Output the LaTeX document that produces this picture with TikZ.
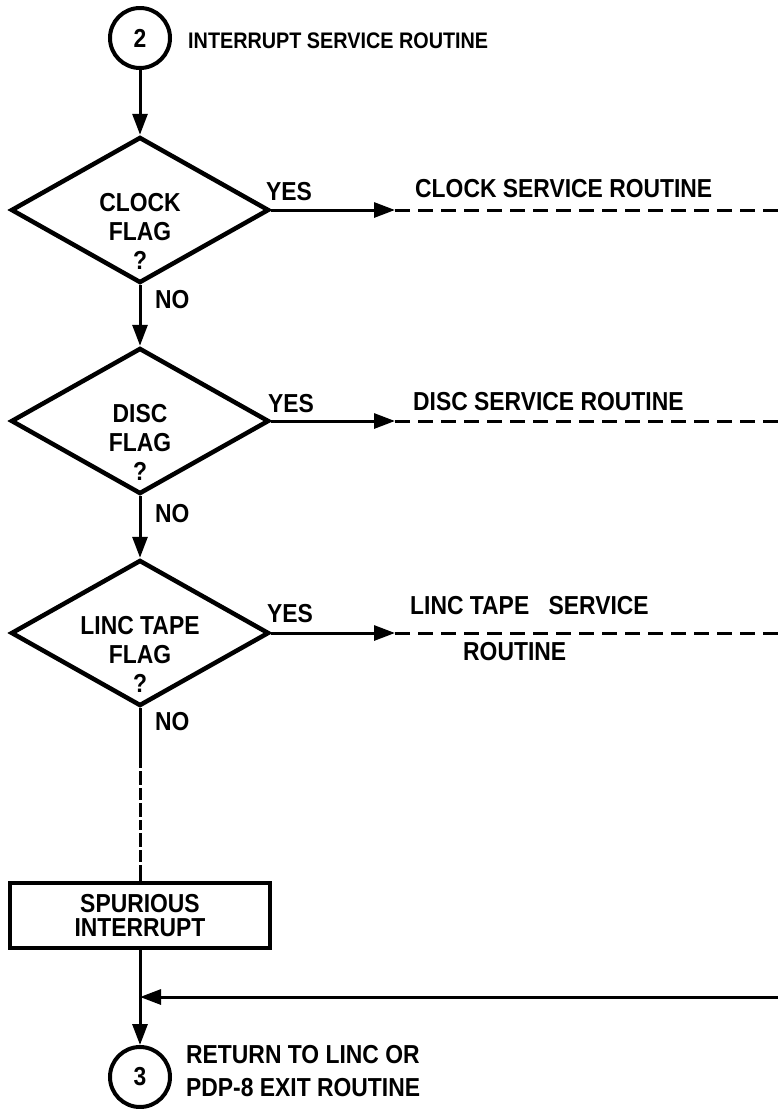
\documentclass[tikz,border=0pt]{standalone}
\usepackage{fontspec}
\setmainfont{Liberation Sans}[FakeStretch=0.88]
\usetikzlibrary{shapes.geometric,arrows.meta,calc}
\begin{document}
\begin{tikzpicture}[x=1pt,y=-1pt,
  lbl/.style={font=\bfseries\fontsize{26}{29}\selectfont,inner sep=0pt,anchor=base west},
  ttl/.style={font=\bfseries\fontsize{22.5}{27}\selectfont,inner sep=0pt,anchor=base west},
  dtext/.style={font=\bfseries\fontsize{26}{29}\selectfont,inner sep=0pt,align=center},
  decision/.style={draw,shape=diamond,line width=4.5pt,minimum width=258pt,minimum height=146pt,aspect=1.77,inner sep=0pt},
  conn/.style={draw,shape=circle,line width=4pt,minimum size=60pt,inner sep=0pt,font=\bfseries\fontsize{26}{29}\selectfont},
  procbox/.style={draw,rectangle,line width=4pt,minimum width=260pt,minimum height=65pt,inner sep=0pt,align=center,font=\bfseries\fontsize{26}{24}\selectfont},
  flow/.style={line width=3pt,-{Triangle[length=21pt,width=15pt]}},
  dashline/.style={line width=3pt,dash pattern=on 15pt off 8pt}
]
\useasboundingbox (0,0) rectangle (778,1109);

% start connector
\node[conn] (c2) at (140,38) {2};
\node[ttl] (title) at (188,48) {INTERRUPT SERVICE ROUTINE};

% decisions
\node[decision] (d1) at (140,210) {};
\node[dtext] (d1t) at ([yshift=-21pt]d1.center) {CLOCK\\FLAG\\?};
\node[decision] (d2) at (140,421) {};
\node[dtext] (d2t) at ([yshift=-21pt]d2.center) {DISC\\FLAG\\?};
\node[decision] (d3) at (140,633) {};
\node[dtext] (d3t) at ([yshift=-21pt]d3.center) {LINC TAPE\\FLAG\\?};

% process box
\node[procbox] (sp) at (140,915.5) {SPURIOUS\\INTERRUPT};

% end connector
\node[conn] (c3) at (140,1077) {3};
\node[lbl] (rt1) at (186,1063) {RETURN TO LINC OR};
\node[lbl] (rt2) at (186,1096) {PDP-8 EXIT ROUTINE};

% yes branches
\coordinate (a1) at (395,210);
\coordinate (e1) at (778,210);
\coordinate (a2) at (395,421);
\coordinate (e2) at (778,421);
\coordinate (a3) at (395,633);
\coordinate (e3) at (778,633);

\draw[flow] (d1.east) -- (a1);
\draw[dashline] (a1) -- (e1);
\draw[flow] (d2.east) -- (a2);
\draw[dashline] (a2) -- (e2);
\draw[flow] (d3.east) -- (a3);
\draw[dashline] (a3) -- (e3);

\node[lbl] (y1) at (266,200) {YES};
\node[lbl] (y2) at (268,412) {YES};
\node[lbl] (y3) at (267,622) {YES};

\node[lbl] (s1) at (415,197) {CLOCK SERVICE ROUTINE};
\node[lbl] (s2) at (413,410) {DISC SERVICE ROUTINE};
\node[lbl] (s3) at (410,614) {LINC TAPE\hspace{0.5em} SERVICE};
\node[lbl] (s3b) at (463,660) {ROUTINE};

% no branches
\node[lbl] (n1) at (155,308) {NO};
\node[lbl] (n2) at (155,522) {NO};
\node[lbl] (n3) at (155,730) {NO};

\draw[flow] (c2.south) -- (d1.north);
\draw[flow] (d1.south) -- (d2.north);
\draw[flow] (d2.south) -- (d3.north);
\draw[line width=3pt,dash pattern=on 60pt off 3pt on 14pt off 3pt on 12pt off 3pt on 14pt off 3pt on 10pt off 3pt on 14pt off 3pt on 12pt off 3pt on 40pt] (d3.south) -- (sp.north);

% return line and exit
\coordinate (j) at (140,997);
\coordinate (rin) at (778,997);
\draw[flow] (sp.south) -- (c3.north);
\draw[flow] (rin) -- (j);
\end{tikzpicture}
\end{document}
